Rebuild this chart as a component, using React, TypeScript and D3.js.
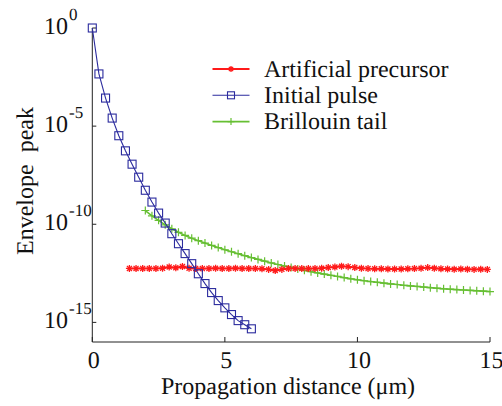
import React from "react";
import * as d3 from "d3";

// Initial pulse: x = 0..6 step 0.25
const pulseX = d3.range(0, 6.001, 0.25);
const pulseY = [
  1, 4.57e-3, 2.69e-4, 2.57e-5, 3.24e-6, 5.5e-7, 1.15e-7, 2.5e-8, 5.4e-9,
  1.35e-9, 3.7e-10, 1.15e-10, 3.3e-11, 1.02e-11, 3.2e-12, 9.8e-13, 3.0e-13,
  9.5e-14, 3.3e-14, 1.29e-14, 5.5e-15, 2.5e-15, 1.23e-15, 7.6e-16, 4.7e-16,
];

// Brillouin tail: x = 2..15 step 0.25
const tailX = d3.range(2, 15.001, 0.25);
const tailY = [
  5.01e-10, 2.69e-10, 1.58e-10, 9.33e-11, 5.89e-11, 3.89e-11, 2.69e-11, 1.95e-11,
  1.45e-11, 1.1e-11, 8.32e-12, 6.46e-12, 5.01e-12, 3.98e-12, 3.16e-12, 2.51e-12,
  2.0e-12, 1.62e-12, 1.32e-12, 1.07e-12, 8.91e-13, 7.41e-13, 6.31e-13, 5.25e-13,
  4.47e-13, 3.8e-13, 3.31e-13, 2.88e-13, 2.51e-13, 2.19e-13, 1.91e-13, 1.66e-13,
  1.48e-13, 1.32e-13, 1.2e-13, 1.1e-13, 1.0e-13, 9.12e-14, 8.51e-14, 7.76e-14,
  7.24e-14, 6.76e-14, 6.31e-14, 5.89e-14, 5.5e-14, 5.13e-14, 4.9e-14, 4.68e-14,
  4.47e-14, 4.27e-14, 4.07e-14, 3.89e-14, 3.72e-14,
];

// Artificial precursor: x = 1.4..14.9 step 0.25
const precX = d3.range(1.4, 14.901, 0.25);
const precY = [
  5.62e-13, 5.62e-13, 5.62e-13, 5.62e-13, 5.62e-13, 5.75e-13, 6.61e-13, 6.03e-13,
  7.08e-13, 5.75e-13, 5.62e-13, 5.5e-13, 5.62e-13, 5.75e-13, 5.62e-13, 5.62e-13,
  5.75e-13, 5.62e-13, 5.62e-13, 5.5e-13, 5.37e-13, 5.01e-13, 4.37e-13, 5.01e-13,
  5.62e-13, 5.62e-13, 5.62e-13, 5.5e-13, 5.62e-13, 5.75e-13, 6.31e-13, 6.61e-13,
  7.24e-13, 6.92e-13, 6.31e-13, 5.75e-13, 5.5e-13, 5.37e-13, 5.37e-13, 5.25e-13,
  5.25e-13, 5.25e-13, 5.37e-13, 5.5e-13, 5.75e-13, 6.17e-13, 5.75e-13, 5.37e-13,
  5.25e-13, 5.13e-13, 5.25e-13, 5.13e-13, 5.01e-13, 5.13e-13, 5.01e-13,
];

const xTicks = [0, 5, 10, 15];
const yTickExps = [0, -5, -10, -15];
const legendLabels = ["Artificial precursor", "Initial pulse", "Brillouin tail"];

const RED = "#ff1a1a";
const BLUE = "#2b2b9e";
const GREEN = "#66bf33";
const FONT = "Liberation Serif";

const x = d3.scaleLinear().domain([0, 15]).range([92.3, 490]);
const y = d3.scaleLog().domain([1e-16, 1]).range([342, 28]);

const line = d3
  .line<[number, number]>()
  .x((d) => x(d[0]))
  .y((d) => y(d[1]));

const zip = (xs: number[], ys: number[]) =>
  ys.map((v, i) => [xs[i], v] as [number, number]);

const T = (props: any) => (
  <text
    fontFamily={FONT}
    fill="#111"
    textRendering="geometricPrecision"
    style={{ fontFamily: FONT, whiteSpace: "pre" }}
    {...props}
  />
);

const Star = ({ cx, cy, s = 3.5 }: { cx: number; cy: number; s?: number }) => {
  const d = s * 0.72;
  return (
    <path
      d={`M${cx - s},${cy}H${cx + s}M${cx},${cy - s}V${cy + s}M${cx - d},${cy - d}L${cx + d},${cy + d}M${cx - d},${cy + d}L${cx + d},${cy - d}`}
      stroke={RED}
      strokeWidth={1.3}
      fill="none"
    />
  );
};
const Plus = ({ cx, cy, s = 4 }: { cx: number; cy: number; s?: number }) => (
  <path
    d={`M${cx - s},${cy}H${cx + s}M${cx},${cy - s}V${cy + s}`}
    stroke={GREEN}
    strokeWidth={1.2}
    fill="none"
  />
);
const Square = ({ cx, cy, s = 4 }: { cx: number; cy: number; s?: number }) => (
  <rect x={cx - s} y={cy - s} width={2 * s} height={2 * s} stroke={BLUE} strokeWidth={1.1} fill="none" />
);

export default function App() {
  const prec = zip(precX, precY);
  const pulse = zip(pulseX, pulseY);
  const tail = zip(tailX, tailY);
  const x0 = x.range()[0];
  const y0 = y.range()[0];

  return (
    <svg
      width={502}
      height={406}
      style={{ position: "absolute", left: 0, top: 0, background: "#fff" }}
    >
      {/* axes */}
      <line x1={x0} x2={x0} y1={y(1)} y2={y0} stroke="#222" strokeWidth={1} />
      <line x1={x0} x2={x(15)} y1={y0} y2={y0} stroke="#222" strokeWidth={1} />
      {xTicks.map((t) => (
        <g key={"xt" + t}>
          <line x1={x(t)} x2={x(t)} y1={y0} y2={y0 - 5} stroke="#222" />
          <T x={x(t) + 1.5} y={368} fontSize={24} textAnchor="middle">
            {String(t)}
          </T>
        </g>
      ))}
      {yTickExps.map((e) => {
        const ty = y(Math.pow(10, e));
        return (
          <g key={"yt" + e}>
            <line x1={x0} x2={x0 + 4} y1={ty} y2={ty} stroke="#222" />
            <T x={68} y={ty + 6} fontSize={24} textAnchor="end">
              10
            </T>
            <T x={69} y={ty - 8} fontSize={17} textAnchor="start">
              {e === 0 ? "0" : "-" + Math.abs(e)}
            </T>
          </g>
        );
      })}
      <T x={288} y={394} fontSize={24} textAnchor="middle">
        Propagation distance (μm)
      </T>
      <T transform="translate(33,181) rotate(-90)" fontSize={24} textAnchor="middle">
        Envelope  peak
      </T>

      {/* series */}
      <path d={line(tail) || ""} stroke={GREEN} strokeWidth={1.6} fill="none" />
      {tail.map((p, i) => (
        <Plus key={"g" + i} cx={x(p[0])} cy={y(p[1])} />
      ))}
      <path d={line(prec) || ""} stroke={RED} strokeWidth={2} fill="none" />
      {prec.map((p, i) => (
        <Star key={"r" + i} cx={x(p[0])} cy={y(p[1])} />
      ))}
      <path d={line(pulse) || ""} stroke={BLUE} strokeWidth={1.1} fill="none" />
      {pulse.map((p, i) => (
        <Square key={"b" + i} cx={x(p[0])} cy={y(p[1])} />
      ))}

      {/* legend */}
      {legendLabels.map((lab, i) => {
        const ly = 69 + i * 26.3;
        const color = [RED, BLUE, GREEN][i];
        return (
          <g key={"lg" + i}>
            <line x1={212.5} x2={249.5} y1={ly} y2={ly} stroke={color} strokeWidth={i === 0 ? 2 : i === 1 ? 1.1 : 1.6} />
            {i === 0 && <Star cx={231} cy={ly} s={3} />}
            {i === 1 && <Square cx={231} cy={ly} s={3.5} />}
            {i === 2 && <Plus cx={231} cy={ly} s={3.5} />}
            <T x={264} y={ly + 7.5} fontSize={24}>
              {lab}
            </T>
          </g>
        );
      })}
    </svg>
  );
}
